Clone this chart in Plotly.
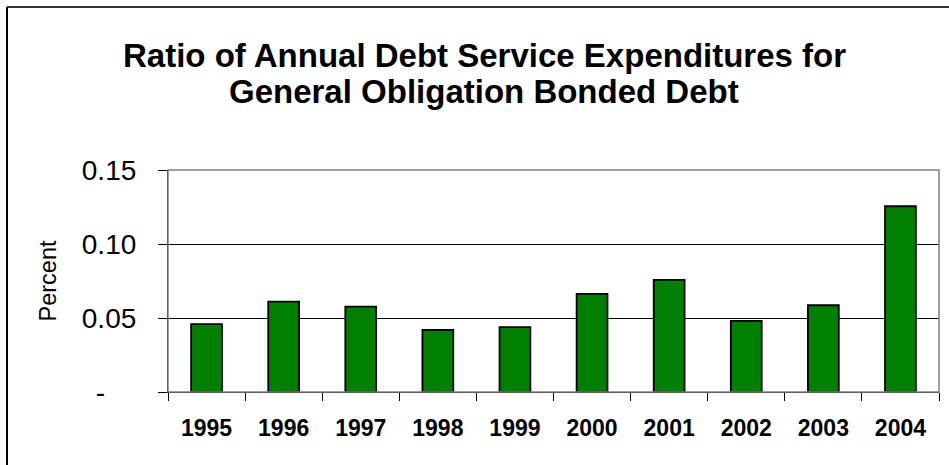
import plotly.graph_objects as go

years = ["1995", "1996", "1997", "1998", "1999", "2000", "2001", "2002", "2003", "2004"]
ratios = [0.0459, 0.0610, 0.0577, 0.0419, 0.0439, 0.0663, 0.0758, 0.0480, 0.0586, 0.1255]
ytick_vals = [0, 0.05, 0.10, 0.15]
ytick_text = ["-\u2007\u2007", "0.05", "0.10", "0.15"]
title_lines = ["Ratio of Annual Debt Service Expenditures for", "General Obligation Bonded Debt"]

W, H = 949, 465
L, R, T, B = 168, 10, 170, 73
pw, ph = W - L - R, H - T - B

def px(x):
    return (x - L) / pw

def py(y):
    return (H - B - y) / ph

fig = go.Figure(go.Bar(
    x=years, y=ratios,
    marker=dict(color="#008000", line=dict(color="#000000", width=1.8)),
))

annotations = []
for line, ycen in zip(title_lines, [56, 91]):
    annotations.append(dict(
        text="<b>" + line + "</b>", xref="paper", yref="paper",
        x=px(484), y=py(ycen), xanchor="center", yanchor="middle",
        showarrow=False, font=dict(size=33, color="#000000"),
    ))

fig.update_layout(
    width=W, height=H,
    margin=dict(l=L, r=R, t=T, b=B),
    paper_bgcolor="white", plot_bgcolor="white",
    bargap=0.6,
    showlegend=False,
    font=dict(family="Liberation Sans, Arial, sans-serif", color="#000000"),
    annotations=annotations,
    shapes=[
        dict(type="rect", xref="paper", yref="paper",
             x0=0, x1=1, y0=0, y1=1,
             line=dict(color="#808080", width=1.5), layer="above"),
        dict(type="line", xref="paper", yref="paper",
             x0=px(7), x1=px(W + 5), y0=py(7), y1=py(7),
             line=dict(color="#333333", width=2)),
        dict(type="line", xref="paper", yref="paper",
             x0=px(7), x1=px(7), y0=py(7), y1=py(H + 5),
             line=dict(color="#000000", width=2)),
    ],
)

fig.update_xaxes(
    type="category",
    showline=True, linecolor="#000000", linewidth=1.2,
    ticks="outside", ticklen=8, tickcolor="#000000", tickwidth=1.2,
    tickson="boundaries",
    tickfont=dict(size=23, family="Liberation Sans, Arial, sans-serif", color="#000000", weight="bold"),
    ticklabelstandoff=15,
    showgrid=False,
)
fig.update_yaxes(
    range=[0, 0.15],
    tickvals=ytick_vals, ticktext=ytick_text,
    showline=True, linecolor="#000000", linewidth=1.2,
    ticks="outside", ticklen=9, tickcolor="#000000", tickwidth=1.2,
    tickfont=dict(size=28, color="#000000"),
    ticklabelstandoff=16,
    showgrid=True, gridcolor="#000000", gridwidth=1,
    zeroline=False,
    title=dict(text="Percent", font=dict(size=23.5, color="#000000"), standoff=18),
)

fig.write_html("out.html")
